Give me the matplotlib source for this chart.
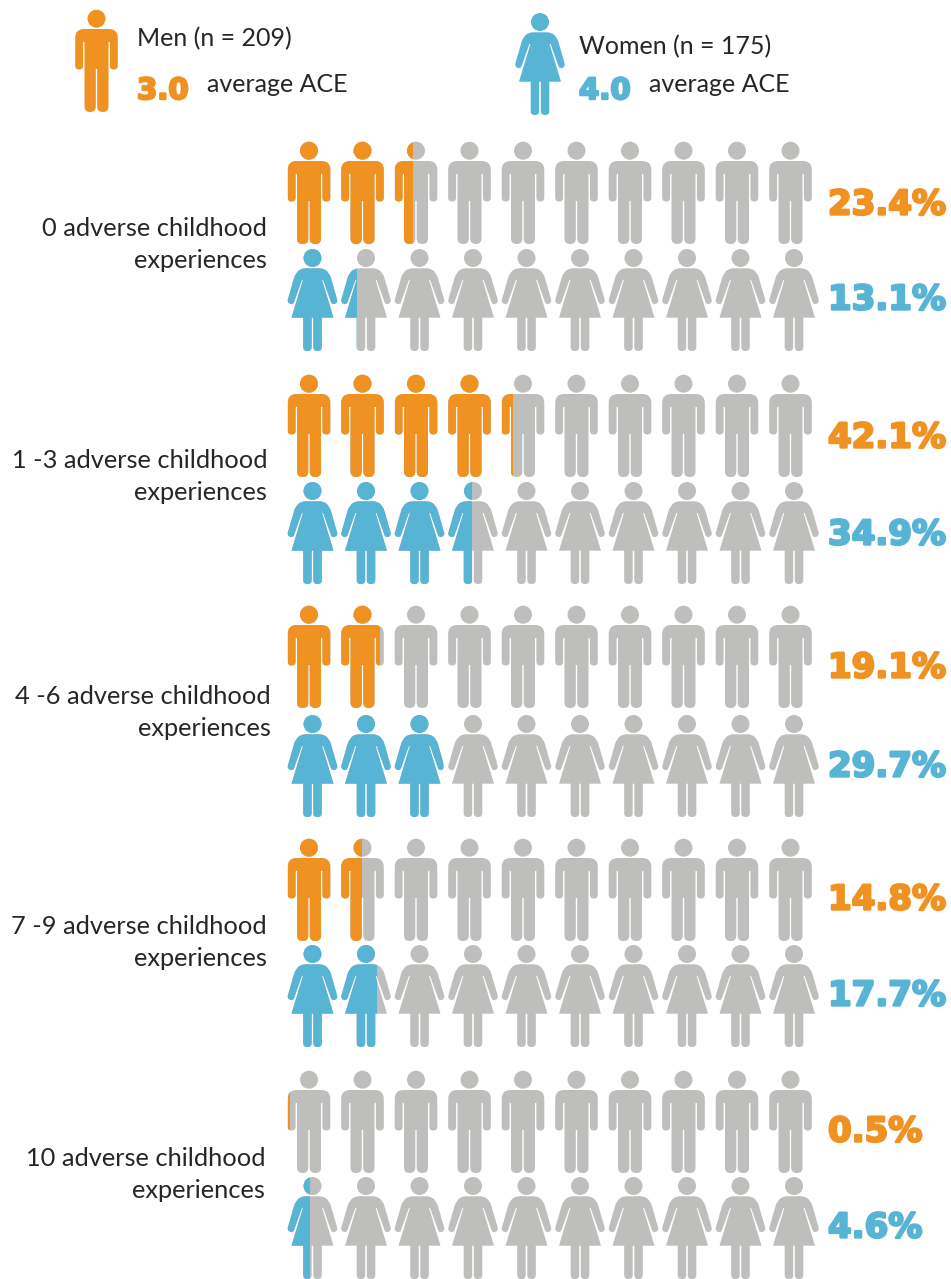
import numpy as np
import matplotlib
matplotlib.use("Agg")
import matplotlib.pyplot as plt
import matplotlib.patheffects as pe
from matplotlib.patches import PathPatch, Rectangle
from matplotlib.path import Path
from matplotlib.transforms import Affine2D

plt.rcParams["font.family"] = ["Lato", "DejaVu Sans"]

ORANGE = "#EF9222"
BLUE = "#58B4D4"
GREY = "#BEBEBD"
INK = "#262626"

groups = ["0 adverse childhood", "1 -3 adverse childhood", "4 -6 adverse childhood",
          "7 -9 adverse childhood", "10 adverse childhood"]
men_pct = ["23.4%", "42.1%", "19.1%", "14.8%", "0.5%"]
women_pct = ["13.1%", "34.9%", "29.7%", "17.7%", "4.6%"]
# icons filled, as they read on the picture (10 icons per row)
men_icons = [2.44, 4.27, 1.91, 1.48, 0.05]
women_icons = [1.32, 3.49, 2.97, 1.72, 0.46]

# pixel layout
men_top = [142, 375, 606, 839, 1071]
women_top = [249, 482, 715, 945, 1177]
men_x0 = 309
women_x0 = 312.5
step = 53.5
label_right = [267, 267, 271, 267, 265]
label_y = [228, 461, 696, 927, 1159]
men_pct_y = [205, 438, 668, 900, 1132]
women_pct_y = [300, 535, 767, 996, 1228]


def rounded(corners):
    # closed outline from (x, y, radius) corners
    verts, codes = [], []
    n = len(corners)
    for i, (x, y, r) in enumerate(corners):
        p = np.array([x, y], float)
        if r == 0:
            verts.append(p)
            codes.append(Path.MOVETO if i == 0 else Path.LINETO)
            continue
        a = np.array(corners[i - 1][:2], float)
        b = np.array(corners[(i + 1) % n][:2], float)
        s = p + (a - p) / np.linalg.norm(a - p) * r
        e = p + (b - p) / np.linalg.norm(b - p) * r
        verts.append(s)
        codes.append(Path.MOVETO if i == 0 else Path.LINETO)
        verts += [p, e]
        codes += [Path.CURVE3, Path.CURVE3]
    verts.append(verts[0])
    codes.append(Path.CLOSEPOLY)
    return Path(verts, codes)


def mirrored(half):
    return half + [(-x, y, r) for x, y, r in reversed(half)]


man_half = [(0.7, 59, 0), (0.7, 102, 5.5), (12, 102, 5.5), (12, 32, 0), (13.4, 32, 0),
            (13.4, 59.5, 3.9), (21.3, 59.5, 3.9), (21.3, 19, 9)]
man_body = rounded(mirrored(list(reversed(man_half))))
MAN = Path.make_compound_path(Path.circle((0, 8.7), 9), man_body)

woman_half = [(0.8, 68.7, 0), (0.8, 102, 4), (9.3, 102, 4), (9.3, 68.7, 0), (21, 68.7, 0),
              (9.6, 31, 0), (10.6, 31, 0), (19.5, 56, 3), (25.5, 53.5, 3), (17, 24, 5),
              (11, 19.3, 4)]
woman_body = rounded(mirrored(list(reversed(woman_half))))
WOMAN = Path.make_compound_path(Path.circle((0, 9), 9), woman_body)


def icon(ax, path, cx, top, color, cut=None):
    patch = PathPatch(path, fc=color, ec="none", lw=0, snap=False,
                      transform=Affine2D().translate(cx, top) + ax.transData)
    ax.add_patch(patch)
    if cut is not None:
        # clip to the filled share of the icon
        box = Rectangle((cut[0], top - 2), cut[1] - cut[0], 110, transform=ax.transData)
        patch.set_clip_path(box)


def heavy(ax, x, y, s, size, color):
    ax.text(x, y, s, ha="left", va="center", fontsize=size, fontweight="bold", family="DejaVu Sans",
            color=color, path_effects=[pe.withStroke(linewidth=1.7, foreground=color)])


fig = plt.figure(figsize=(9.51, 12.79), dpi=100)
ax = fig.add_axes([0, 0, 1, 1])
ax.set_xlim(0, 951)
ax.set_ylim(1279, 0)
ax.axis("off")

for i in range(len(groups)):
    for path, tops, x0, hw, vals in [(MAN, men_top, men_x0, 21.5, men_icons),
                                     (WOMAN, women_top, women_x0, 25.5, women_icons)]:
        col = ORANGE if path is MAN else BLUE
        for k in range(10):
            cx = x0 + k * step
            share = min(max(vals[i] - k, 0), 1)
            icon(ax, path, cx, tops[i], GREY)
            if share > 0:
                left = cx - hw
                icon(ax, path, cx, tops[i], col, cut=(left, left + share * 2 * hw))
    ax.text(label_right[i], label_y[i], groups[i], ha="right", va="center", fontsize=18.3, color=INK)
    ax.text(label_right[i], label_y[i] + 32, "experiences", ha="right", va="center", fontsize=18.3, color=INK)
    heavy(ax, 828, men_pct_y[i], men_pct[i], 24.5, ORANGE)
    heavy(ax, 828, women_pct_y[i], women_pct[i], 24.5, BLUE)

# header
icon(ax, MAN, 96.5, 10, ORANGE)
icon(ax, WOMAN, 540, 13, BLUE)
ax.text(137, 39, "Men (n = 209)", ha="left", va="center", fontsize=18, color=INK)
ax.text(579, 47, "Women (n = 175)", ha="left", va="center", fontsize=18, color=INK)
heavy(ax, 137, 91, "3.0", 21, ORANGE)
heavy(ax, 579, 91, "4.0", 21, BLUE)
ax.text(207, 85, "average ACE", ha="left", va="center", fontsize=18, color=INK)
ax.text(649, 85, "average ACE", ha="left", va="center", fontsize=18, color=INK)

fig.savefig("out.png", dpi=100)
